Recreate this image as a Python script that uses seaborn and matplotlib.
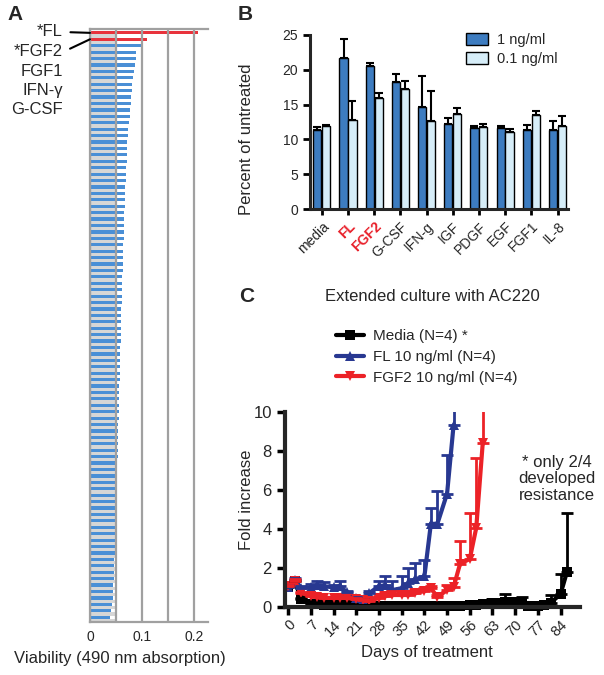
import numpy as np
import pandas as pd
import seaborn as sns
import matplotlib.pyplot as plt


# ---------------------------------------------------------------- data
# Panel A : viability screen (sorted), first two rows highlighted
screen_labels = ["FL", "FGF2", "FGF1", "IFN-γ", "G-CSF"]
screen_values = [
    0.208, 0.110,
    0.100, 0.089, 0.088, 0.087, 0.085, 0.083, 0.081, 0.080, 0.079, 0.078,
    0.077, 0.076, 0.075, 0.074, 0.073, 0.072, 0.072, 0.071, 0.071, 0.070,
    0.069, 0.069, 0.068, 0.068, 0.067, 0.067, 0.066, 0.066, 0.066, 0.065,
    0.065, 0.064, 0.064, 0.063, 0.063, 0.063, 0.062, 0.062, 0.061, 0.061,
    0.061, 0.060, 0.060, 0.060, 0.059, 0.059, 0.059, 0.058, 0.058, 0.058,
    0.057, 0.057, 0.057, 0.056, 0.056, 0.056, 0.055, 0.055, 0.055, 0.054,
    0.054, 0.054, 0.053, 0.053, 0.053, 0.052, 0.052, 0.052, 0.051, 0.051,
    0.051, 0.050, 0.050, 0.050, 0.049, 0.049, 0.049, 0.048, 0.048, 0.048,
    0.047, 0.047, 0.046, 0.046, 0.045, 0.045, 0.044, 0.043, 0.041, 0.038,
]
screen_untreated = 0.05

# Panel B : percent of untreated
b_factors = ["media", "FL", "FGF2", "G-CSF", "IFN-g", "IGF", "PDGF", "EGF", "FGF1", "IL-8"]
b_1ng = [11.4, 21.7, 20.6, 18.3, 14.7, 12.2, 11.6, 11.6, 11.4, 11.3]
b_1ng_err = [0.4, 2.7, 0.4, 1.1, 4.4, 0.9, 0.35, 0.35, 0.65, 1.4]
b_01ng = [11.9, 12.8, 16.0, 17.2, 12.6, 13.6, 11.8, 11.05, 13.5, 11.9]
b_01ng_err = [0.2, 2.7, 0.7, 1.2, 4.4, 0.9, 0.45, 0.5, 0.6, 1.4]

# Panel C : extended culture
media_days = [0, 2, 4, 7, 9, 11, 14, 16, 18, 21, 23, 25, 28, 30, 32, 35, 37, 39, 42,
              44, 46, 49, 51, 53, 56, 58, 60, 63, 65, 67, 70, 72, 74, 77, 79, 81, 84, 86]
media_fold = [1.0, 1.3, 0.4, 0.15, 0.12, 0.1, 0.1, 0.08, 0.08, 0.07, 0.06, 0.06, 0.05,
              0.05, 0.05, 0.05, 0.04, 0.04, 0.04, 0.04, 0.04, 0.05, 0.06, 0.06, 0.07,
              0.08, 0.15, 0.2, 0.2, 0.25, 0.25, 0.2, 0.05, 0.05, 0.1, 0.2, 0.65, 1.8]
media_err = [0.05, 0.05, 0.05, 0.05, 0.03, 0.03, 0.03, 0.03, 0.03, 0.03, 0.03, 0.03, 0.03,
             0.03, 0.03, 0.03, 0.03, 0.03, 0.03, 0.03, 0.03, 0.03, 0.03, 0.03, 0.05,
             0.05, 0.1, 0.2, 0.1, 0.4, 0.1, 0.3, 0.05, 0.05, 0.1, 0.4, 1.05, 3.0]

fl_days = [0, 2, 4, 7, 9, 11, 14, 16, 18, 21, 23, 25, 28, 30, 32, 35, 37, 39, 42, 44, 46, 49, 51]
fl_fold = [1.0, 1.37, 0.95, 1.0, 1.1, 1.05, 1.0, 1.05, 0.75, 0.45, 0.35, 0.7, 1.05, 1.1,
           0.85, 0.95, 1.2, 1.4, 1.55, 4.25, 4.25, 5.8, 9.3]
fl_err = [0.1, 0.1, 0.1, 0.15, 0.2, 0.2, 0.1, 0.25, 0.05, 0.05, 0.05, 0.1, 0.25, 0.5,
          0.45, 0.6, 0.8, 0.85, 0.85, 0.8, 1.7, 2.0, 1.5]

fgf2_days = [0, 2, 4, 7, 9, 11, 14, 16, 18, 21, 23, 25, 28, 30, 32, 35, 37, 39, 42, 44,
             46, 49, 51, 53, 56, 58, 60]
fgf2_fold = [1.05, 1.3, 0.7, 0.55, 0.5, 0.45, 0.45, 0.45, 0.45, 0.4, 0.35, 0.3, 0.45, 0.55,
             0.6, 0.6, 0.6, 0.7, 0.8, 0.95, 0.5, 0.85, 1.0, 2.2, 2.45, 4.05, 8.4]
fgf2_err = [0.05, 0.1, 0.05, 0.05, 0.05, 0.05, 0.05, 0.05, 0.05, 0.05, 0.05, 0.05, 0.1, 0.2,
            0.2, 0.2, 0.15, 0.2, 0.15, 0.1, 0.1, 0.25, 0.45, 1.15, 2.35, 3.6, 2.0]

c_series = ["Media (N=4) *", "FL 10 ng/ml (N=4)", "FGF2 10 ng/ml (N=4)"]


# ---------------------------------------------------------------- style
sns.set_style("ticks")
plt.rcParams["font.family"] = ["Liberation Sans", "DejaVu Sans"]

W, H = 604, 675


def rect(left, top, right, bottom):
    return [left / W, 1 - bottom / H, (right - left) / W, (bottom - top) / H]


def ftext(x, y, s, **kw):
    fig.text(x / W, 1 - y / H, s, **kw)


fig = plt.figure(figsize=(W / 100, H / 100), dpi=100)


# ---------------------------------------------------------------- panel A
n_rows = len(screen_values)
row_names = screen_labels + [f"factor {i}" for i in range(len(screen_labels), n_rows)]
df_a = pd.DataFrame({
    "factor": row_names * 2,
    "kind": ["treated"] * n_rows + ["untreated"] * n_rows,
    "value": screen_values + [screen_untreated] * n_rows,
})

axA = fig.add_axes(rect(90, 29, 208, 622))
sns.barplot(data=df_a, y="factor", x="value", hue="kind", hue_order=["treated", "untreated"],
            palette={"treated": "#4a8fd6", "untreated": "#d6d6d6"}, orient="h",
            width=1.0, gap=0, saturation=1, linewidth=0, legend=False, ax=axA)
for p in list(axA.containers[0])[:2]:
    p.set_facecolor("#e8333c")

axA.set_xlim(0, 0.227)
axA.set_ylim(n_rows - 0.5, -0.85)
axA.set_xticks([0, 0.1, 0.2], ["0", "0.1", "0.2"])
axA.set_xticks([0.05, 0.15], minor=True)
axA.grid(axis="x", which="both", color="#a0a0a0", lw=1.6)
axA.set_axisbelow(False)
axA.tick_params(axis="x", which="both", length=0, labelsize=10, pad=6)
axA.tick_params(axis="y", left=False, labelleft=False)
axA.set_xlabel("")
axA.set_ylabel("")
for side in ["top", "left", "bottom"]:
    axA.spines[side].set_color("#a0a0a0")
    axA.spines[side].set_linewidth(1.6)
axA.spines["right"].set_visible(False)

bars = list(axA.containers[0])
for p, lab, ty in [(bars[0], "*FL", 32), (bars[1], "*FGF2", 52)]:
    axA.annotate(lab, xy=(p.get_x(), p.get_y() + p.get_height() / 2), xycoords="data",
                 xytext=(63, H - ty), textcoords="figure pixels", ha="right", va="center",
                 fontsize=12, annotation_clip=False,
                 arrowprops=dict(arrowstyle="-", color="black", lw=1.5,
                                 shrinkA=3, shrinkB=0, relpos=(1, 0.5)))
for lab, ty in zip(screen_labels[2:], [71, 90, 110]):
    ftext(63, ty, lab, ha="right", va="center", fontsize=12)

ftext(120, 658, "Viability (490 nm absorption)", ha="center", va="center", fontsize=12)


# ---------------------------------------------------------------- panel B
df_b = pd.DataFrame({
    "factor": b_factors * 2,
    "dose": ["1 ng/ml"] * len(b_factors) + ["0.1 ng/ml"] * len(b_factors),
    "percent": b_1ng + b_01ng,
})
axB = fig.add_axes(rect(310, 35, 568, 209))
sns.barplot(data=df_b, x="factor", y="percent", hue="dose", palette=["#3d7cc0", "#d6edf8"],
            edgecolor="black", linewidth=1, width=0.68, gap=0.08, saturation=1, ax=axB)
for cont, errs in zip(axB.containers, [b_1ng_err, b_01ng_err]):
    xs = [p.get_x() + p.get_width() / 2 for p in cont]
    ys = [p.get_height() for p in cont]
    axB.errorbar(xs, ys, yerr=[np.zeros(len(errs)), errs], fmt="none", ecolor="black",
                 elinewidth=1.5, capsize=3, capthick=1.5, zorder=1)

axB.set_ylim(0, 25)
axB.set_xlim(-0.45, 9.4)
axB.set_yticks(range(0, 26, 5))
axB.set_xlabel("")
axB.set_ylabel("")
axB.tick_params(width=2, length=5, labelsize=10, color="black")
axB.tick_params(axis="x", length=4)
plt.setp(axB.get_xticklabels(), rotation=45, ha="right", rotation_mode="anchor")
for t in axB.get_xticklabels():
    if t.get_text() in ("FL", "FGF2"):
        t.set_color("#e8202a")
        t.set_fontweight("bold")
sns.despine(ax=axB)
for side in ["left", "bottom"]:
    axB.spines[side].set_linewidth(2.2)

h, l = axB.get_legend_handles_labels()
axB.legend(h, l, loc="upper left", bbox_to_anchor=(466 / W, 1 - 33 / H),
           bbox_transform=fig.transFigure, frameon=False, fontsize=10.5,
           handlelength=1.5, handleheight=0.85, handletextpad=0.65,
           labelspacing=0.35, borderpad=0, borderaxespad=0)
ftext(246, 139, "Percent of untreated", rotation=90, ha="center", va="center", fontsize=12)


# ---------------------------------------------------------------- panel C
df_c = pd.concat([
    pd.DataFrame({"series": c_series[0], "day": media_days, "fold": media_fold}),
    pd.DataFrame({"series": c_series[1], "day": fl_days, "fold": fl_fold}),
    pd.DataFrame({"series": c_series[2], "day": fgf2_days, "fold": fgf2_fold}),
])
c_colors = {c_series[0]: "black", c_series[1]: "#283891", c_series[2]: "#ec2227"}

axC = fig.add_axes(rect(285, 411.7, 580, 606.7))
sns.lineplot(data=df_c, x="day", y="fold", hue="series", style="series",
             hue_order=c_series, style_order=c_series, palette=c_colors,
             markers={c_series[0]: "s", c_series[1]: "^", c_series[2]: "v"},
             dashes=False, linewidth=3, markersize=7, markeredgewidth=0,
             errorbar=None, clip_on=False, ax=axC)
for name, d, f, e in [(c_series[0], media_days, media_fold, media_err),
                      (c_series[1], fl_days, fl_fold, fl_err),
                      (c_series[2], fgf2_days, fgf2_fold, fgf2_err)]:
    axC.errorbar(d, f, yerr=[np.zeros(len(e)), e], fmt="none", ecolor=c_colors[name],
                 elinewidth=2, capsize=4, capthick=2)

axC.set_xlim(-1, 90)
axC.set_ylim(0, 10)
axC.set_xticks(range(0, 85, 7))
axC.set_yticks(range(0, 11, 2))
axC.set_xlabel("")
axC.set_ylabel("")
axC.tick_params(width=2.5, length=6, labelsize=12, color="black")
axC.tick_params(axis="x", labelsize=10.5, pad=2)
plt.setp(axC.get_xticklabels(), rotation=45, ha="right", rotation_mode="anchor")
sns.despine(ax=axC)
for side in ["left", "bottom"]:
    axC.spines[side].set_linewidth(3)

h, l = axC.get_legend_handles_labels()
axC.legend(h, l, loc="upper left", bbox_to_anchor=(336 / W, 1 - 329 / H),
           bbox_transform=fig.transFigure, frameon=False, fontsize=11,
           handlelength=1.8, handletextpad=0.6, labelspacing=0.45,
           borderpad=0, borderaxespad=0)

ftext(432, 297, "Extended culture with AC220", ha="center", va="center", fontsize=12)
ftext(427, 652, "Days of treatment", ha="center", va="center", fontsize=12)
ftext(246, 500, "Fold increase", rotation=90, ha="center", va="center", fontsize=12)
ftext(557, 479, "* only 2/4\ndeveloped\nresistance", ha="center", va="center",
      fontsize=12, linespacing=1.15)

# panel letters
ftext(15, 15, "A", fontsize=15, fontweight="bold", ha="center", va="center")
ftext(245, 15, "B", fontsize=15, fontweight="bold", ha="center", va="center")
ftext(247, 296, "C", fontsize=15, fontweight="bold", ha="center", va="center")

fig.savefig("out.png", dpi=100)
